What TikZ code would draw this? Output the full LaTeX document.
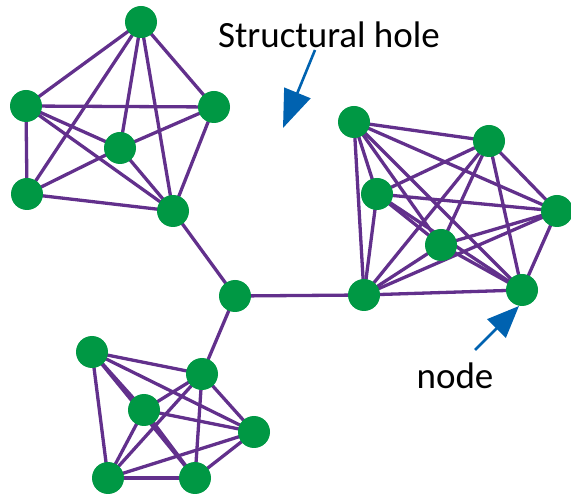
\documentclass[tikz,border=0pt]{standalone}
\usepackage{fontspec}
\setmainfont{Carlito}
\usetikzlibrary{arrows.meta}
\definecolor{ngreen}{RGB}{0,152,68}
\definecolor{epurple}{RGB}{98,48,140}
\definecolor{ablue}{RGB}{0,98,176}
\begin{document}
\begin{tikzpicture}[x=1pt,y=-1pt,
  vtx/.style={circle,fill=ngreen,minimum size=32pt,inner sep=0pt},
  edge/.style={draw=epurple,line width=3.3pt},
  lbl/.style={font=\fontsize{37}{42}\selectfont,text=black,inner sep=0pt},
  pointer/.style={draw=ablue,fill=ablue,line width=2.6pt,-{Triangle[length=38pt,width=28pt]}}]
\useasboundingbox (0,0) rectangle (571,494);
% top-left cluster
\coordinate (A1) at (141,22);
\coordinate (A2) at (26,106);
\coordinate (A3) at (214,107);
\coordinate (A4) at (120,148);
\coordinate (A5) at (27,194);
\coordinate (A6) at (173,211);
% center
\coordinate (C) at (235,296);
% right cluster
\coordinate (B1) at (354,122);
\coordinate (B2) at (489,141);
\coordinate (B3) at (377,194);
\coordinate (B4) at (557,211);
\coordinate (B5) at (441,245);
\coordinate (B6) at (522,290);
\coordinate (B7) at (364,295);
% bottom cluster
\coordinate (D1) at (92,352);
\coordinate (D2) at (202,374);
\coordinate (D3) at (144,410);
\coordinate (D4) at (254,432);
\coordinate (D5) at (108,478);
\coordinate (D6) at (195,478);
% edges
\foreach \a/\b in {A1/A2,A1/A3,A1/A4,A1/A5,A1/A6,A2/A3,A2/A4,A2/A5,A2/A6,A3/A4,A3/A6,A4/A5,A4/A6,A5/A6}
  \path[edge] (\a) -- (\b);
\foreach \a/\b in {B1/B2,B1/B3,B1/B4,B1/B5,B1/B6,B1/B7,B2/B3,B2/B4,B2/B5,B2/B6,B2/B7,B3/B4,B3/B5,B3/B6,B3/B7,B4/B5,B4/B6,B4/B7,B5/B6,B5/B7,B6/B7}
  \path[edge] (\a) -- (\b);
\foreach \a/\b in {D1/D2,D1/D3,D1/D4,D1/D5,D1/D6,D2/D3,D2/D4,D2/D5,D2/D6,D3/D4,D3/D5,D3/D6,D4/D5,D4/D6,D5/D6}
  \path[edge] (\a) -- (\b);
\path[edge] (A6) -- (C) -- (B7);
\path[edge] (C) -- (D2);
% nodes
\foreach \n in {A1,A2,A3,A4,A5,A6,C,B1,B2,B3,B4,B5,B6,B7,D1,D2,D3,D4,D5,D6}
  \node[vtx] (n\n) at (\n) {};
% labels
\node[lbl] (sh) at (329,35) {Structural hole};
\node[lbl] (nd) at (455,376) {node};
\coordinate (sh0) at (315,50);
\coordinate (sh1) at (283,128);
\coordinate (nd0) at (475,350);
\coordinate (nd1) at (519,306);
\draw[pointer] (sh0) -- (sh1);
\draw[pointer,-{Triangle[length=32pt,width=26pt]}] (nd0) -- (nd1);
\end{tikzpicture}
\end{document}
